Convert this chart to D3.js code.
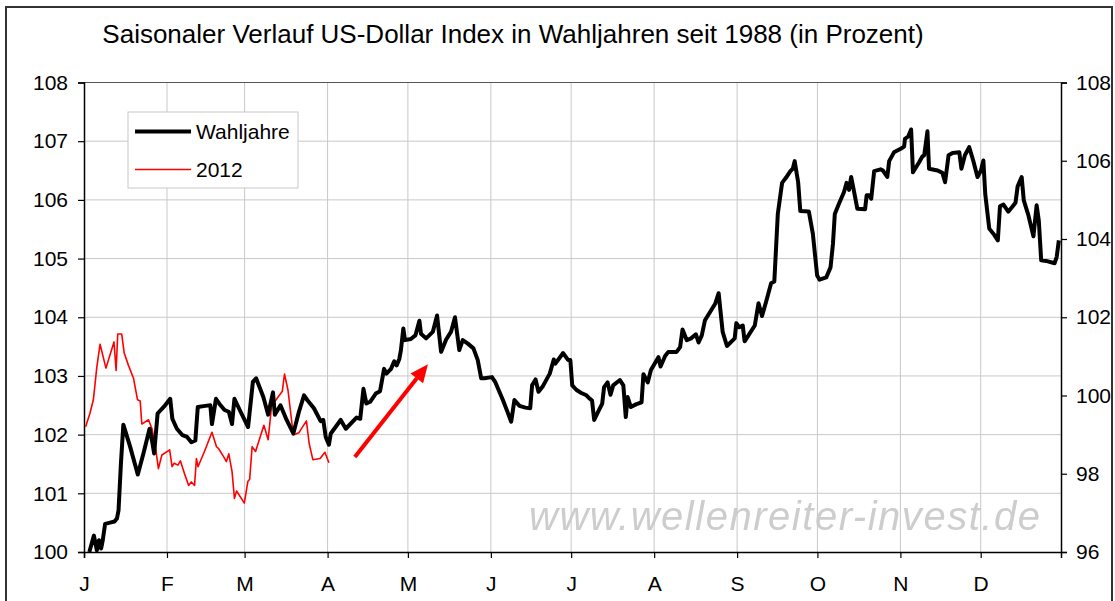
<!DOCTYPE html>
<html>
<head>
<meta charset="utf-8">
<script src="https://cdn.jsdelivr.net/npm/d3@7"></script>
<style>
  body { margin: 0; background: #fff; }
  text { font-family: "Liberation Sans", Arial, sans-serif; }
</style>
</head>
<body>
<svg id="chart" width="1115" height="601"></svg>
<script>
// Wahljahre (left axis): day offset since Jan 1, value
var wahlDays = [2.0, 3.7, 4.8, 5.6, 6.4, 7.0, 7.9, 9.7, 11.4, 12.3, 12.9, 13.8, 14.7, 17.2, 20.1, 22.2, 24.5, 25.4, 26.2, 27.5,
    30.3, 32.2, 33.0, 34.7, 36.8, 38.5, 40.1, 41.6, 42.5, 45.3, 47.2, 47.8, 49.3, 51.0, 52.5, 54.1, 55.3, 56.2, 58.5, 61.3,
    63.1, 64.3, 67.0, 68.8, 70.6, 71.3, 73.4, 75.7, 78.2, 80.3, 82.2, 83.4, 85.9, 88.4, 89.4, 90.3, 91.5, 92.2, 95.9, 97.8,
    101.8, 103.2, 104.4, 105.5, 106.9, 109.0, 110.6, 112.1, 113.0, 114.7, 115.9, 116.8, 117.8, 118.4, 119.3, 119.9, 122.1, 123.8, 125.3, 125.9,
    127.8, 130.3, 131.9, 133.4, 135.3, 137.1, 138.6, 140.2, 141.5, 143.4, 145.5, 147.1, 148.4, 149.6, 152.4, 153.6, 154.9, 156.5, 158.1, 159.6,
    160.8, 162.7, 164.9, 166.7, 167.4, 168.7, 169.8, 171.5, 174.0, 175.5, 176.1, 179.0, 180.9, 181.7, 182.4, 184.0, 185.8, 187.7, 189.0, 189.8,
    190.6, 192.1, 193.6, 194.3, 195.6, 196.7, 197.7, 200.2, 201.5, 202.4, 203.1, 204.3, 206.4, 208.3, 209.0, 210.6, 211.8, 214.6, 215.4, 217.1,
    218.3, 221.4, 222.7, 223.6, 225.2, 226.8, 228.6, 229.6, 230.8, 232.0, 233.9, 235.8, 237.1, 238.6, 240.2, 243.1, 243.7, 244.8, 246.1, 246.8,
    250.6, 252.0, 253.3, 254.8, 256.7, 257.9, 259.2, 260.8, 262.3, 263.9, 264.8, 265.5, 266.8, 267.6, 270.8, 272.3, 273.9, 274.8, 277.3, 278.9,
    279.8, 280.5, 282.0, 283.9, 284.9, 285.8, 286.6, 287.6, 288.9, 291.8, 292.4, 293.3, 294.1, 295.2, 297.6, 298.5, 300.1, 300.8, 302.6, 305.1,
    306.4, 306.7, 307.9, 309.0, 309.7, 312.0, 313.2, 313.9, 315.1, 315.7, 318.9, 320.7, 321.7, 323.0, 324.5, 327.0, 327.8, 329.1, 330.7, 332.2,
    333.8, 335.1, 336.0, 336.7, 338.2, 340.1, 341.4, 342.2, 343.5, 345.3, 346.6, 348.0, 348.8, 350.3, 351.1, 352.8, 354.7, 355.9, 356.7, 357.6,
    359.4, 362.6, 363.4, 364.2];
var wahlValues = [100.0, 100.28, 100.03, 100.2, 100.06, 100.2, 100.48, 100.5, 100.52, 100.57, 100.71, 101.51, 102.17, 101.8, 101.32, 101.68, 102.1, 101.9, 101.68, 102.36,
    102.5, 102.61, 102.27, 102.1, 101.99, 101.96, 101.87, 101.9, 102.47, 102.49, 102.5, 102.18, 102.61, 102.5, 102.42, 102.39, 102.18, 102.61, 102.39, 102.13,
    102.9, 102.96, 102.64, 102.34, 102.72, 102.34, 102.5, 102.25, 102.02, 102.39, 102.67, 102.59, 102.45, 102.23, 102.25, 101.96, 101.83, 102.02, 102.25, 102.1,
    102.29, 102.27, 102.78, 102.53, 102.56, 102.7, 102.74, 103.12, 103.04, 103.12, 103.25, 103.18, 103.29, 103.44, 103.81, 103.61, 103.63, 103.69, 103.94, 103.72,
    103.64, 103.75, 104.03, 103.41, 103.62, 103.75, 104.0, 103.44, 103.61, 103.55, 103.47, 103.27, 102.96, 102.96, 102.98, 102.9, 102.76, 102.59, 102.4, 102.22,
    102.59, 102.49, 102.46, 102.45, 102.84, 102.94, 102.73, 102.83, 103.04, 103.28, 103.21, 103.39, 103.27, 103.27, 102.84, 102.76, 102.71, 102.67, 102.61, 102.58,
    102.25, 102.39, 102.53, 102.81, 102.89, 102.68, 102.84, 102.93, 102.84, 102.3, 102.64, 102.47, 102.52, 102.55, 103.03, 102.89, 103.1, 103.32, 103.16, 103.34,
    103.41, 103.41, 103.49, 103.79, 103.61, 103.64, 103.71, 103.57, 103.69, 103.95, 104.09, 104.23, 104.41, 103.75, 103.51, 103.64, 103.9, 103.83, 103.86, 103.59,
    103.86, 104.24, 104.02, 104.26, 104.58, 104.61, 105.76, 106.29, 106.38, 106.49, 106.53, 106.66, 106.3, 105.81, 105.8, 105.42, 104.71, 104.64, 104.68, 104.85,
    105.25, 105.76, 105.93, 106.13, 106.29, 106.17, 106.39, 106.16, 105.85, 105.84, 106.08, 106.08, 106.02, 106.49, 106.52, 106.5, 106.39, 106.66, 106.81, 106.87,
    106.91, 107.04, 107.08, 107.2, 106.47, 106.64, 106.74, 106.76, 107.17, 106.53, 106.5, 106.46, 106.3, 106.76, 106.8, 106.81, 106.53, 106.76, 106.9, 106.67,
    106.39, 106.5, 106.67, 106.1, 105.51, 105.4, 105.31, 105.89, 105.92, 105.8, 105.87, 105.95, 106.23, 106.39, 105.99, 105.74, 105.38, 105.91, 105.65, 104.97,
    104.96, 104.92, 105.03, 105.31];

// 2012 (right axis)
var days2012 = [0.6, 2.2, 3.5, 4.8, 6.0, 8.2, 11.2, 12.0, 12.6, 14.1, 15.0, 16.6, 18.5, 20.0, 21.0, 21.6, 24.1, 25.4, 26.6, 27.8,
    29.1, 32.0, 32.9, 33.7, 35.1, 36.0, 37.5, 39.1, 40.1, 41.3, 42.0, 42.6, 45.0, 47.8, 49.5, 50.3, 52.2, 53.2, 54.1, 55.3,
    56.2, 57.0, 59.9, 61.2, 61.9, 62.8, 64.1, 67.2, 68.8, 70.1, 71.2, 74.1, 74.9, 76.2, 78.2, 80.3, 83.1, 84.1, 85.5, 88.2,
    90.0, 91.5];
var values2012 = [99.2, 99.54, 99.89, 100.73, 101.31, 100.7, 101.37, 100.64, 101.57, 101.57, 101.09, 100.77, 100.44, 99.89, 99.86, 99.27, 99.38, 99.15, 98.73, 98.13,
    98.48, 98.61, 98.18, 98.27, 98.22, 98.33, 98.01, 97.7, 97.79, 97.7, 98.39, 98.18, 98.57, 99.06, 98.69, 98.64, 98.43, 98.31, 98.51, 98.06,
    97.37, 97.56, 97.25, 97.8, 97.86, 98.69, 98.57, 99.24, 98.87, 99.75, 99.84, 100.11, 100.55, 100.14, 98.99, 99.05, 99.35, 98.78, 98.36, 98.39,
    98.55, 98.28];

var monthLabels = ["J", "F", "M", "A", "M", "J", "J", "A", "S", "O", "N", "D"];
var leftTicks = [100, 101, 102, 103, 104, 105, 106, 107, 108];
var rightTicks = [96, 98, 100, 102, 104, 106, 108];
var seriesNames = ["Wahljahre", "2012"];
var titleText = "Saisonaler Verlauf US-Dollar Index in Wahljahren seit 1988 (in Prozent)";
// arrow annotation, from/to as [day, left value]
var arrowFrom = [101.2, 101.62];
var arrowTo = [128.5, 103.2];

var start = new Date(2012, 0, 1);
function toDate(d) { return new Date(start.getTime() + d * 864e5); }

var svg = d3.select("#chart");
var L = 84, R = 1061, T = 82.5, B = 552;

var x = d3.scaleTime().domain([start, new Date(2012, 11, 31)]).range([L, R]);
var yL = d3.scaleLinear().domain([100, 108]).range([B, T]);
var yR = d3.scaleLinear().domain([96, 108]).range([B, T]);

// outer frame
svg.append("rect").attr("x", 6).attr("y", 7).attr("width", 1106).attr("height", 610)
    .attr("fill", "#fff").attr("stroke", "#333").attr("stroke-width", 2);

svg.append("text").attr("x", 513).attr("y", 43).attr("text-anchor", "middle")
    .style("font-size", "26px").attr("fill", "#000").text(titleText);

// watermark, under the grid
var defs = svg.append("defs");
defs.append("filter").attr("id", "soft").append("feGaussianBlur").attr("stdDeviation", 0.7);
svg.append("text").attr("x", 529).attr("y", 530)
    .attr("textLength", 511).attr("lengthAdjust", "spacing")
    .style("font-size", "40px").style("font-style", "italic")
    .attr("fill", "#cdcdcd").attr("filter", "url(#soft)").text("www.wellenreiter-invest.de");

var months = d3.range(12).map(function (m) { return new Date(2012, m, 1); });

// grid
var grid = svg.append("g");
grid.selectAll("line.v").data(months.slice(1)).enter().append("line")
    .attr("x1", function (d) { return x(d); }).attr("x2", function (d) { return x(d); })
    .attr("y1", T).attr("y2", B).attr("stroke", "#c8c8c8").attr("stroke-width", 1);
grid.selectAll("line.h").data(leftTicks.slice(1, -1)).enter().append("line")
    .attr("x1", L).attr("x2", R)
    .attr("y1", function (d) { return yL(d); }).attr("y2", function (d) { return yL(d); })
    .attr("stroke", "#c8c8c8").attr("stroke-width", 1);
svg.append("line").attr("x1", L).attr("x2", R).attr("y1", T).attr("y2", T)
    .attr("stroke", "#555").attr("stroke-width", 1.2);

// axes
var xAxis = d3.axisBottom(x).tickValues(months).tickSize(6)
    .tickFormat(function (d, i) { return monthLabels[i]; });
var gx = svg.append("g").attr("transform", "translate(0," + B + ")").call(xAxis);
gx.selectAll("text").attr("dy", "1.45em").style("font-size", "21px");

var gl = svg.append("g").attr("transform", "translate(" + L + ",0)")
    .call(d3.axisLeft(yL).tickValues(leftTicks).tickSize(6).tickPadding(10));
gl.selectAll("text").style("font-size", "21px");

var gr = svg.append("g").attr("transform", "translate(" + R + ",0)")
    .call(d3.axisRight(yR).tickValues(rightTicks).tickSize(6).tickPadding(9));
gr.selectAll("text").style("font-size", "21px");

[gx, gl, gr].forEach(function (g) {
    g.select(".domain").attr("stroke", "#000").attr("stroke-width", 1.5);
    g.selectAll(".tick line").attr("stroke", "#000").attr("stroke-width", 1.2);
    g.selectAll("text").attr("fill", "#000").style("font-family", "Liberation Sans, Arial, sans-serif");
});

// series
var lineL = d3.line().x(function (d) { return x(toDate(d[0])); }).y(function (d) { return yL(d[1]); });
var lineR = d3.line().x(function (d) { return x(toDate(d[0])); }).y(function (d) { return yR(d[1]); });

svg.append("path").datum(d3.zip(days2012, values2012)).attr("d", lineR)
    .attr("fill", "none").attr("stroke", "#ff0000").attr("stroke-width", 1.6)
    .attr("stroke-linejoin", "round");
svg.append("path").datum(d3.zip(wahlDays, wahlValues)).attr("d", lineL)
    .attr("fill", "none").attr("stroke", "#000").attr("stroke-width", 4)
    .attr("stroke-linejoin", "round");

// arrow
var ax1 = x(toDate(arrowFrom[0])), ay1 = yL(arrowFrom[1]);
var ax2 = x(toDate(arrowTo[0])), ay2 = yL(arrowTo[1]);
var ang = Math.atan2(ay2 - ay1, ax2 - ax1);
var hl = 18, hw = 8;
var bx = ax2 - hl * Math.cos(ang), by = ay2 - hl * Math.sin(ang);
svg.append("line").attr("x1", ax1).attr("y1", ay1).attr("x2", bx).attr("y2", by)
    .attr("stroke", "#ff0000").attr("stroke-width", 4);
svg.append("path")
    .attr("d", "M" + ax2 + "," + ay2 +
        "L" + (bx + hw * Math.sin(ang)) + "," + (by - hw * Math.cos(ang)) +
        "L" + (bx - hw * Math.sin(ang)) + "," + (by + hw * Math.cos(ang)) + "Z")
    .attr("fill", "#ff0000");

// legend
var lg = svg.append("g");
lg.append("rect").attr("x", 128).attr("y", 112).attr("width", 170).attr("height", 76)
    .attr("fill", "#fff").attr("stroke", "#c8c8c8").attr("stroke-width", 1);
var legColors = ["#000", "#ff0000"], legWidths = [4, 1.6], legY = [131.5, 169.5];
seriesNames.forEach(function (name, i) {
    lg.append("line").attr("x1", 135).attr("x2", 191).attr("y1", legY[i]).attr("y2", legY[i])
        .attr("stroke", legColors[i]).attr("stroke-width", legWidths[i]);
    lg.append("text").attr("x", 196).attr("y", legY[i] + 7.5)
        .style("font-size", "21px").attr("fill", "#000").text(name);
});
</script>
</body>
</html>
